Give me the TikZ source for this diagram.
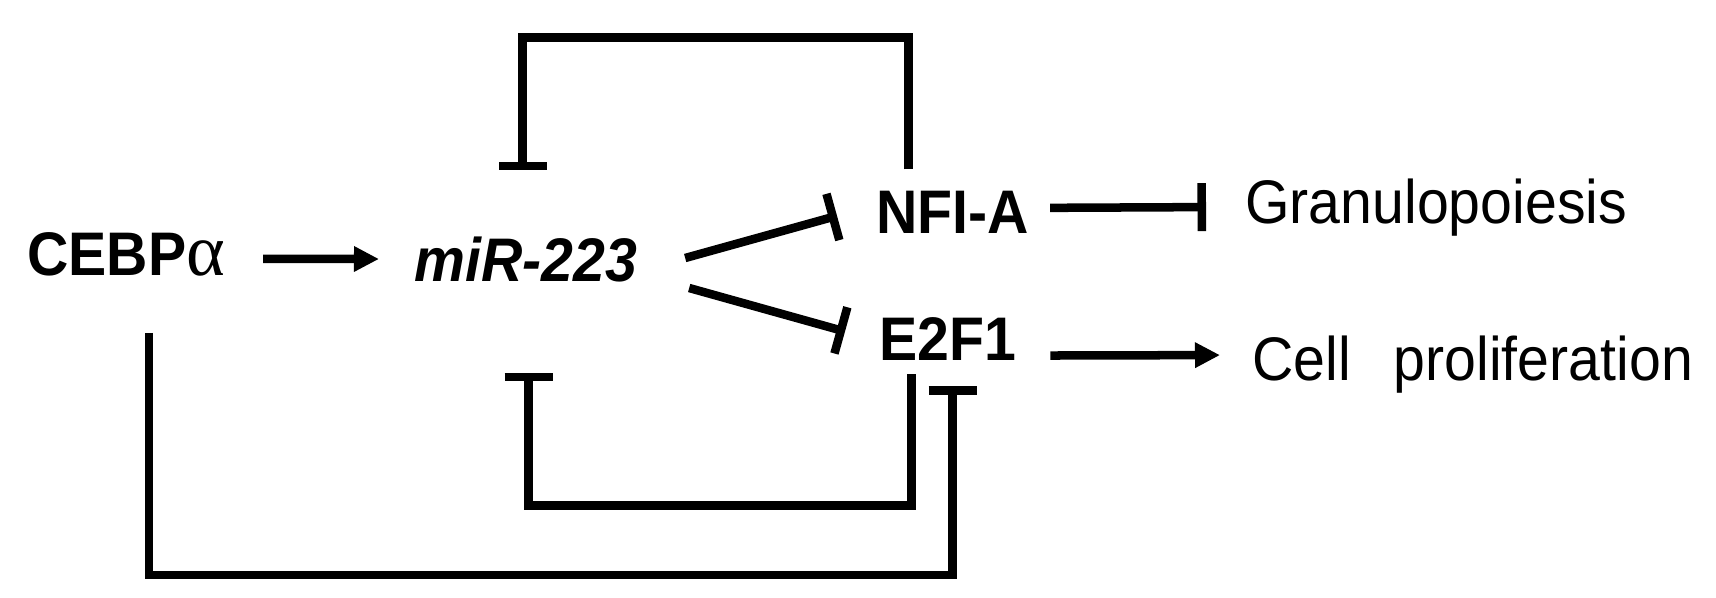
\documentclass[tikz,border=0pt]{standalone}
\usepackage{fontspec}
\setmainfont[FakeStretch=0.93]{Liberation Sans}
\newfontfamily\greekfont{Liberation Serif}
\usetikzlibrary{arrows.meta}
\begin{document}
\begin{tikzpicture}[x=0.01cm,y=-0.01cm,line width=0.085cm,
  lbl/.style={inner sep=0pt,anchor=base west},
  act/.style={-{Triangle[length=0.25cm,width=0.24cm]}},
  inh/.style={-{Bar[width=0.48cm]}}]
\fontsize{17.5}{21}\selectfont
\useasboundingbox (0,0) rectangle (1716,597);
\node[lbl,font=\bfseries] (cebp) at (23,275){CEBP{\greekfont\mdseries\fontsize{21}{24}\selectfont α}};
\node[lbl,font=\bfseries\itshape] (mir) at (410,281){miR-223};
\node[lbl,font=\bfseries] (nfia) at (872,233){NFI-A};
\node[lbl,font=\bfseries] (e2f1) at (875,360){E2F1};
\node[lbl] (gran) at (1241,223){Granulopoiesis};
\node[lbl] (cell) at (1248,380){Cell\hspace{0.7em}proliferation};
\draw[act]([shift={(34,5)}]cebp.east) -- ([shift={(-31,0)}]mir.west);
\draw[inh]([shift={(44,-1)}]mir.east) -- ([shift={(-35,4)}]nfia.west);
\draw[inh]([shift={(48,29)}]mir.east) -- ([shift={(-30,-7)}]e2f1.west);
\draw[inh]([shift={(17,-4)}]nfia.east) -- ([shift={(-35,0)}]gran.west);
\draw[act]([shift={(30,17)}]e2f1.east) -- ([shift={(-28,-9)}]cell.west);
\draw[inh]([shift={(-44,-17)}]nfia.north) -- ++(0,-132) -| ([shift={(-3,-62)}]mir.north);
\draw[inh]([shift={(-36,10)}]e2f1.south) -- ++(0,131) -| ([shift={(3,87)}]mir.south);
\draw[inh]([shift={(23,53)}]cebp.south) -- ++(0,242) -| ([shift={(5,22)}]e2f1.south);
\end{tikzpicture}
\end{document}
